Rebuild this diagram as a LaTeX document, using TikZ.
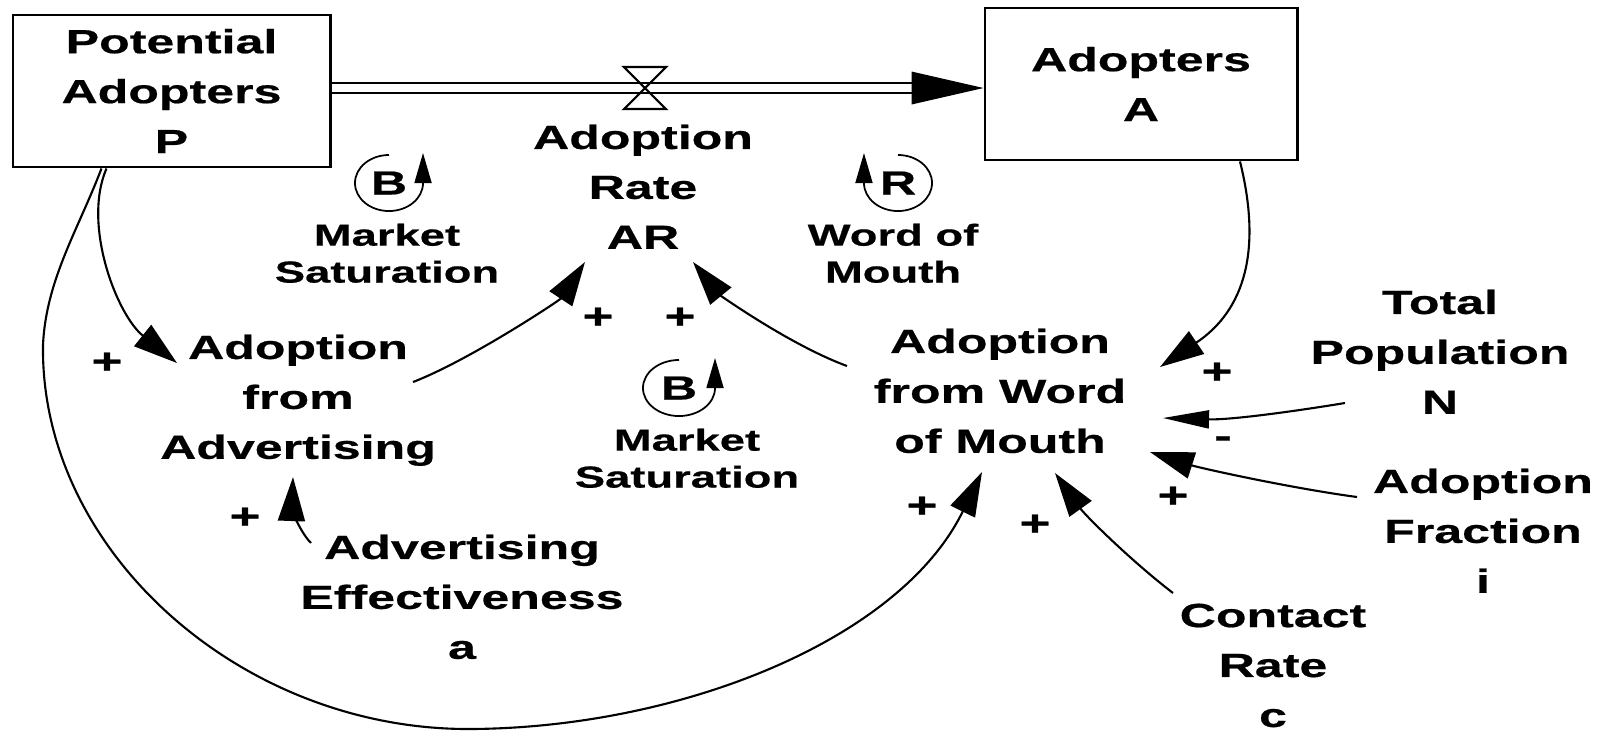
\documentclass[tikz,border=0pt]{standalone}
\usepackage{fontspec}
\setmainfont{Liberation Sans}[FakeStretch=1.5,BoldFeatures={FakeBold=0.6}]
\usetikzlibrary{arrows.meta}

\newcommand{\varfont}{\bfseries\fontsize{9.5}{14.2}\selectfont}
\newcommand{\loopfont}{\bfseries\fontsize{8.6}{10.5}\selectfont}
\newcommand{\signfont}{\bfseries\fontsize{10}{12}\selectfont}

\tikzset{stock/.style={draw,line width=0.8pt,align=center,font=\varfont,inner sep=0pt,minimum height=1.52cm},
         var/.style={align=center,font=\varfont,inner sep=0pt,anchor=north},
         looplabel/.style={align=center,font=\loopfont,inner sep=0pt,anchor=north},
         loopletter/.style={font=\bfseries\fontsize{9.5}{10}\selectfont,inner sep=0pt},
         sign/.style={font=\signfont,inner sep=0pt},
         link/.style={line width=0.6pt,-{Triangle[length=0.44cm,width=0.27cm]}},
         narrowtip/.style={line width=0.6pt,-{Triangle[length=0.46cm,width=0.18cm]}},
         loopmark/.style={line width=0.5pt,-{Triangle[length=0.3cm,width=0.17cm]}},
         pipe/.style={double,line width=0.6pt,double distance=0.085cm}}

\begin{document}
\begin{tikzpicture}[x=0.01cm,y=-0.01cm]
\useasboundingbox (0,0) rectangle (1614,732);
% stocks and the flow between them
\node[stock,minimum width=3.17cm] (pa) at (171.5,91) {Potential\\Adopters\\P};
\node[stock,minimum width=3.12cm] (ad) at (1141,84) {Adopters\\A};
\coordinate (valve) at (645,88);
\coordinate (pipeend) at (918,88);
\draw[pipe] (pa.east |- valve) -- (pipeend);
\fill (ad.west |- valve) -- ++(-72,-16.5) -- ++(0,33) -- cycle;
\draw[line width=0.6pt] (valve) -- ++(-21,-21) -- ++(42,0) -- cycle
      (valve) -- ++(-21,21) -- ++(42,0) -- cycle;
% auxiliaries and constants
\node[var] (ar) at (643,124) {Adoption\\Rate\\AR};
\node[var] (afa) at (298,334) {Adoption\\from\\Advertising};
\node[var] (afw) at (1000,328) {Adoption\\from Word\\of Mouth};
\node[var] (tp) at (1440,289) {Total\\Population\\N};
\node[var] (af) at (1483,468) {Adoption\\Fraction\\i};
\node[var] (cr) at (1273,603) {Contact\\Rate\\c};
\node[var] (ae) at (462,534) {Advertising\\Effectiveness\\a};
% loop markers
\node[loopletter] (lb1) at (389,183) {B};
\node[loopletter] (lb2) at (679,388) {B};
\node[loopletter] (lr) at (898,183) {R};
\draw[loopmark] (lb1.center) ++(90:0.28cm) arc[start angle=90,end angle=360,x radius=0.34cm,y radius=0.28cm] -- ++(0,-30);
\draw[loopmark] (lb2.center) ++(90:0.28cm) arc[start angle=90,end angle=360,x radius=0.36cm,y radius=0.28cm] -- ++(0,-30);
\draw[loopmark] (lr.center) ++(90:0.28cm) arc[start angle=90,end angle=-180,x radius=0.34cm,y radius=0.28cm] -- ++(0,-30);
\node[looplabel] (ms1) at (387,223) {Market\\Saturation};
\node[looplabel] (ms2) at (687,428) {Market\\Saturation};
\node[looplabel] (wom) at (893,223) {Word of\\Mouth};
% causal links
\draw[link] (pa.south west) ++(95,0) .. controls (82,225) and (117,315) .. ([shift={(-121,29)}]afa.north);
\draw[link] (pa.south west) ++(90,0) .. controls (78,230) and (46,280) .. (43,345)
      .. controls (40,550) and (240,730) .. (470,729)
      .. controls (680,728) and (900,640) .. ([shift={(-18,144)}]afw.north);
\draw[link] ([shift={(115,48)}]afa.north) .. controls (470,360) and (560,300) .. ([shift={(-58,138)}]ar.north);
\draw[link] ([shift={(-153,38)}]afw.north) .. controls (790,345) and (720,295) .. ([shift={(50,138)}]ar.north);
\draw[link] ([shift={(99,0)}]ad.south) .. controls (1262,250) and (1245,310) .. ([shift={(160,39)}]afw.north);
\draw[narrowtip] ([shift={(-95,114)}]tp.north) .. controls (1290,412) and (1230,420) .. ([shift={(163,90)}]afw.north);
\draw[link] ([shift={(-126,29)}]af.north) .. controls (1290,488) and (1200,468) .. ([shift={(150,124)}]afw.north);
\draw[link] ([shift={(-100,-10)}]cr.north) .. controls (1130,560) and (1085,515) .. ([shift={(55,145)}]afw.north);
\draw[link] ([shift={(-151,9)}]ae.north) .. controls (298,530) and (292,505) .. ([shift={(-5,143)}]afa.north);
% polarities
\node[sign] (p1) at (107,363) {+};
\node[sign] (p2) at (598,318) {+};
\node[sign] (p3) at (680,318) {+};
\node[sign] (p4) at (245,518) {+};
\node[sign] (p5) at (922,507) {+};
\node[sign] (p6) at (1035,525) {+};
\node[sign] (p7) at (1217,373) {+};
\node[sign] (m1) at (1223,442) {-};
\node[sign] (p8) at (1173,497) {+};
\end{tikzpicture}
\end{document}
